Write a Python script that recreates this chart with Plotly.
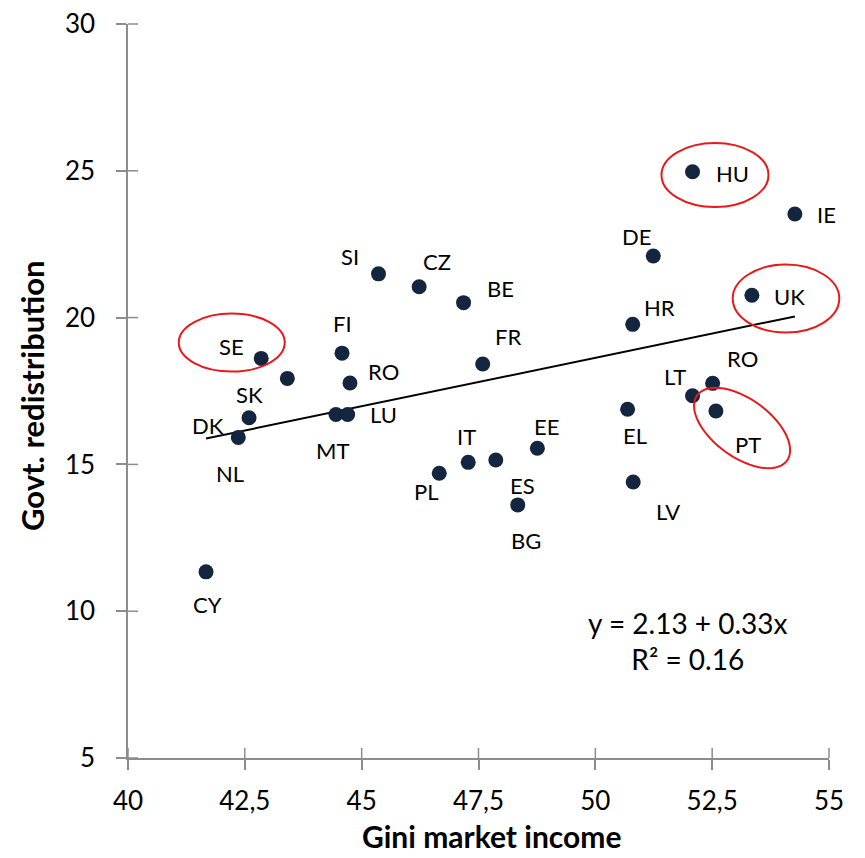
import math
import plotly.graph_objects as go

# ---------------- data ----------------
countries = ["CY", "NL", "DK", "SE", "SK", "FI", "RO", "MT", "LU", "SI", "CZ", "BE", "FR",
             "PL", "IT", "ES", "EE", "BG", "HU", "IE", "DE", "UK", "HR", "RO", "LT", "PT",
             "EL", "LV"]
gini_market = [41.67, 42.36, 42.59, 42.85, 43.41, 44.58, 44.75, 44.45, 44.70, 45.36, 46.23,
               47.18, 47.59, 46.66, 47.28, 47.87, 48.76, 48.34, 52.08, 54.27, 51.24, 53.35,
               50.80, 52.51, 52.08, 52.58, 50.69, 50.81]
redistribution = [11.34, 15.92, 16.59, 18.61, 17.93, 18.79, 17.77, 16.70, 16.70, 21.49, 21.05,
                  20.51, 18.42, 14.70, 15.07, 15.15, 15.55, 13.62, 24.97, 23.53, 22.10, 20.76,
                  19.77, 17.76, 17.34, 16.82, 16.88, 14.40]
trend_intercept = 2.13
trend_slope = 0.33
r_squared = 0.16

x_tickvals = [40, 42.5, 45, 47.5, 50, 52.5, 55]
x_ticktext = ["40", "42,5", "45", "47,5", "50", "52,5", "55"]
y_tickvals = [5, 10, 15, 20, 25, 30]
y_ticktext = ["5", "10", "15", "20", "25", "30"]

# ---------------- styling ----------------
label_dx = [1, -8, -41, -30, -38, 0, 34, -3, 36, -28, 18, 37, 25,
            -13, -2, 27, 9, 8, 40, 32, -17, 38, 27, 30, -18, 32, 7, 35]
label_dy = [33, 36, 8, -12, 16, -30, -12, 36, 0, -17, -25, -14, -27,
            18, -26, 25, -22, 36, 2, 1, -19, 1, -17, -25, -19, 34, 26, 29]

FONT = "Lato, Carlito, Calibri, sans-serif"
# page body has an 8px default margin, so the figure is 8px smaller than the window
W, H = 857, 850
ML, MR, MT, MB = 120, 36, 16, 100
PW, PH = W - ML - MR, H - MT - MB
XR, YR = (40, 55), (5, 30)
axis_gray = "#8C8C8C"

fig = go.Figure()

# trend line computed from regression coefficients over the data range
x_lo, x_hi = min(gini_market), max(gini_market)
fig.add_trace(go.Scatter(
    x=[x_lo, x_hi],
    y=[trend_intercept + trend_slope * x_lo, trend_intercept + trend_slope * x_hi],
    mode="lines", line=dict(color="black", width=2), hoverinfo="skip", showlegend=False))

fig.add_trace(go.Scatter(
    x=gini_market, y=redistribution, mode="markers",
    marker=dict(size=15, color="#13253F"), text=countries, showlegend=False))

annotations = []
for c, x, y, dx, dy in zip(countries, gini_market, redistribution, label_dx, label_dy):
    annotations.append(dict(x=x, y=y, xref="x", yref="y", text=c, showarrow=False,
                            xshift=dx, yshift=-dy,
                            font=dict(family=FONT, size=22, color="black")))

annotations.append(dict(x=(688 - 128) / PW, y=0.0, xref="paper", yref="paper", showarrow=False,
                        text=f"y = {trend_intercept:.2f} + {trend_slope:.2f}x<br>R² = {r_squared:.2f}",
                        align="center", xanchor="center", yanchor="middle", yshift=(758 - 641),
                        font=dict(family=FONT, size=28, color="black")))

annotations.append(dict(x=(491 - 128) / PW, y=0, xref="paper", yref="paper", showarrow=False,
                        text="<b>Gini market income</b>", xanchor="center", yanchor="middle",
                        yshift=-(836 - 758),
                        font=dict(family=FONT, size=30, color="black")))
annotations.append(dict(x=0, y=0.5, xref="paper", yref="paper", showarrow=False,
                        text="<b>Govt. redistribution</b>", textangle=-90,
                        xanchor="center", yanchor="middle", xshift=-(128 - 32), yshift=-5,
                        font=dict(family=FONT, size=31, color="black")))


def to_paper(x, y):
    return (x - XR[0]) / (XR[1] - XR[0]), (y - YR[0]) / (YR[1] - YR[0])


shapes = []
# axis-aligned highlight ellipses: centre (data), radii (px)
ellipses = [((42.22, 19.15), 53, 29), ((52.56, 24.86), 53.5, 32), ((54.08, 20.65), 53.3, 34)]
for (cx, cy), rx, ry in ellipses:
    px, py = to_paper(cx, cy)
    shapes.append(dict(type="circle", xref="paper", yref="paper",
                       x0=px - rx / PW, x1=px + rx / PW, y0=py - ry / PH, y1=py + ry / PH,
                       line=dict(color="#E8191C", width=2), layer="above"))

# rotated ellipse around PT
(cx, cy), a, b, ang = (53.14, 16.24), 55.5, 29, math.radians(36)
px, py = to_paper(cx, cy)
pts = []
for i in range(73):
    t = 2 * math.pi * i / 72
    u = a * math.cos(t) * math.cos(ang) - b * math.sin(t) * math.sin(ang)
    v = a * math.cos(t) * math.sin(ang) + b * math.sin(t) * math.cos(ang)
    pts.append((px + u / PW, py - v / PH))
path = "M " + " L ".join(f"{x:.5f},{y:.5f}" for x, y in pts) + " Z"
shapes.append(dict(type="path", xref="paper", yref="paper", path=path,
                   line=dict(color="#E8191C", width=2), layer="above"))

# inner halves of the crossing tick marks
for v in x_tickvals:
    px, _ = to_paper(v, YR[0])
    shapes.append(dict(type="line", xref="paper", yref="paper", ysizemode="pixel", yanchor=0,
                       x0=px, x1=px, y0=0, y1=10, line=dict(color=axis_gray, width=1.5)))
for v in y_tickvals:
    _, py = to_paper(XR[0], v)
    shapes.append(dict(type="line", xref="paper", yref="paper", xsizemode="pixel", xanchor=0,
                       y0=py, y1=py, x0=0, x1=10, line=dict(color=axis_gray, width=1.5)))

common = dict(showgrid=False, zeroline=False, linecolor=axis_gray, linewidth=1.5,
              ticks="outside", ticklen=10, tickcolor=axis_gray, tickwidth=1.5,
              automargin=False, showline=True, ticklabeloverflow="allow",
              tickfont=dict(family=FONT, size=26, color="black"))

fig.update_layout(
    width=W, height=H, margin=dict(l=ML, r=MR, t=MT, b=MB, autoexpand=False),
    plot_bgcolor="white", paper_bgcolor="white",
    xaxis=dict(range=list(XR), tickvals=x_tickvals, ticktext=x_ticktext,
               ticklabelstandoff=9, **common),
    yaxis=dict(range=list(YR), tickvals=y_tickvals, ticktext=y_ticktext,
               ticklabelstandoff=16, **common),
    annotations=annotations, shapes=shapes, showlegend=False,
)

fig.write_html("out.html")
